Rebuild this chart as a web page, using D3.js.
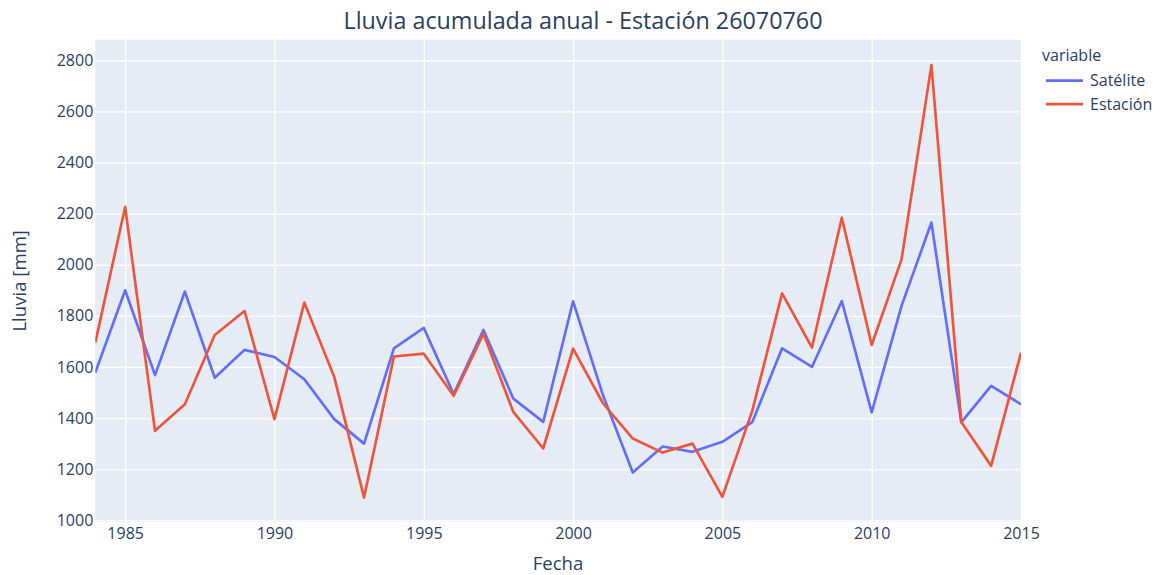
<!DOCTYPE html>
<html>
<head>
<meta charset="utf-8">
<script src="https://cdn.jsdelivr.net/npm/d3@7"></script>
<style>
  html, body { margin: 0; padding: 0; background: #fff; }
  svg { display: block; font-family: "Open Sans", verdana, arial, sans-serif; }
</style>
</head>
<body>
<svg id="chart" width="1156" height="575"></svg>
<script>
const years = [1984,1985,1986,1987,1988,1989,1990,1991,1992,1993,1994,1995,1996,1997,1998,1999,
               2000,2001,2002,2003,2004,2005,2006,2007,2008,2009,2010,2011,2012,2013,2014,2015];
const satelite = [1578,1900,1568,1895,1558,1667,1639,1552,1396,1300,1673,1753,1494,1745,1476,1385,
                  1857,1490,1187,1289,1268,1307,1384,1673,1600,1858,1422,1839,2165,1383,1526,1454];
const estacion = [1695,2226,1350,1454,1725,1819,1396,1852,1562,1089,1641,1652,1487,1730,1424,1281,
                  1672,1458,1320,1265,1300,1092,1428,1888,1676,2184,1686,2021,2781,1385,1213,1656];
const xTicks = [1985,1990,1995,2000,2005,2010,2015];
const yTicks = [1000,1200,1400,1600,1800,2000,2200,2400,2600,2800];
const seriesNames = ["Satélite","Estación"];
const seriesColors = ["#636efa","#EF553B"];
const titleText = "Lluvia acumulada anual - Estación 26070760";
const xTitle = "Fecha";
const yTitle = "Lluvia [mm]";
const legendTitle = "variable";

const svg = d3.select("#chart");
const pL = 95.3, pR = 1021, pT = 39.7, pB = 522;
const textColor = "#2a3f5f";

const x = d3.scaleLinear().domain([1984, 2015]).range([pL, pR]);
const y = d3.scaleLinear().domain([993.4, 2880.5]).range([pB, pT]);

svg.append("rect").attr("x", pL).attr("y", pT)
  .attr("width", pR - pL).attr("height", pB - pT).attr("fill", "#E5ECF6");

// grid
const gx = svg.append("g").attr("transform", `translate(0,${pB})`)
  .call(d3.axisBottom(x).tickValues(xTicks).tickSize(-(pB - pT)).tickFormat(d3.format("d")).tickPadding(8));
const gy = svg.append("g").attr("transform", `translate(${pL},0)`)
  .call(d3.axisLeft(y).tickValues(yTicks).tickSize(-(pR - pL)).tickFormat(d3.format("d")).tickPadding(2));
[gx, gy].forEach(g => {
  g.select(".domain").remove();
  g.selectAll(".tick line").attr("stroke", "#fff").attr("stroke-width", 1.33);
  g.selectAll(".tick text").attr("fill", textColor).style("font-size", "16px")
    .style("font-family", '"Open Sans", verdana, arial, sans-serif');
});
gx.selectAll(".tick text").attr("dy", "0.71em").attr("y", 6);

// lines
const line = d3.line().x((d, i) => x(years[i])).y(d => y(d));
svg.append("clipPath").attr("id", "clip").append("rect")
  .attr("x", pL).attr("y", pT).attr("width", pR - pL).attr("height", pB - pT);
[satelite, estacion].forEach((s, k) => {
  svg.append("path").datum(s).attr("d", line)
    .attr("fill", "none").attr("stroke", seriesColors[k]).attr("stroke-width", 2.67)
    .attr("stroke-linejoin", "round").attr("clip-path", "url(#clip)");
});

// titles
const t = svg.append("text").attr("x", 583).attr("y", 29).attr("text-anchor", "middle")
  .attr("fill", textColor).style("font-size", "22.6px").text(titleText);
const tw = t.node().getComputedTextLength();
if (tw > 0) t.style("font-size", (22.6 * 479 / tw).toFixed(2) + "px");
svg.append("text").attr("x", 558).attr("y", 569.5).attr("text-anchor", "middle")
  .attr("fill", textColor).style("font-size", "18.6px").text(xTitle);
svg.append("text").attr("transform", `translate(26,${(pT + pB) / 2}) rotate(-90)`)
  .attr("text-anchor", "middle").attr("fill", textColor).style("font-size", "18.6px").text(yTitle);

// legend
const lg = svg.append("g");
lg.append("text").attr("x", 1042).attr("y", 61).attr("fill", textColor)
  .style("font-size", "16px").text(legendTitle);
seriesNames.forEach((n, i) => {
  const ly = 80.7 + i * 23.5;
  lg.append("line").attr("x1", 1046).attr("x2", 1083).attr("y1", ly).attr("y2", ly)
    .attr("stroke", seriesColors[i]).attr("stroke-width", 2.67);
  lg.append("text").attr("x", 1090).attr("y", ly + 5.5).attr("fill", textColor)
    .style("font-size", "16px").text(n);
});
</script>
</body>
</html>
